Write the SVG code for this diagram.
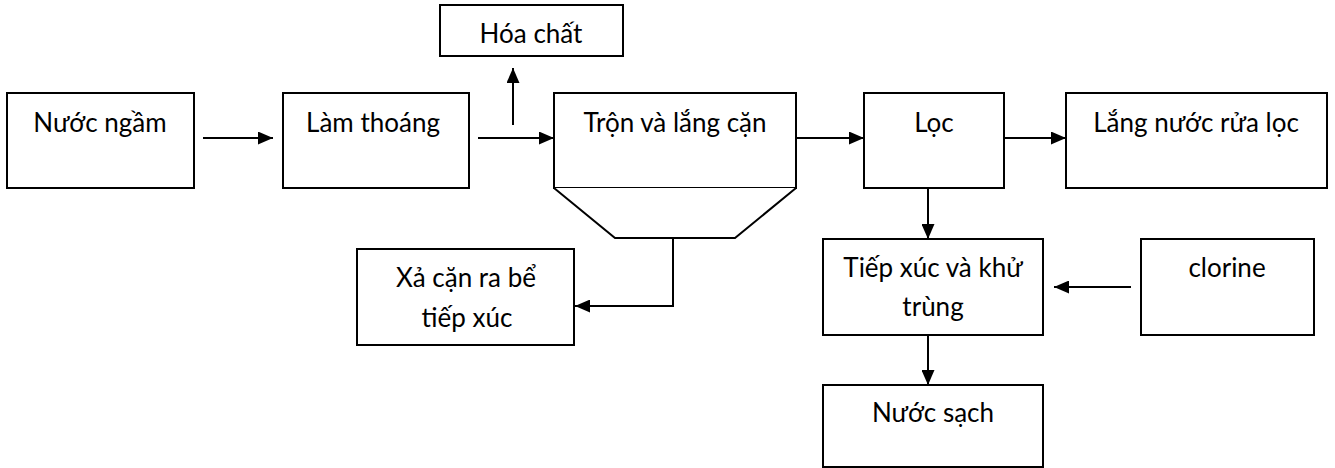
<svg xmlns="http://www.w3.org/2000/svg" width="1335" height="468" viewBox="0 0 1335 468">
<defs>
<marker id="ah" markerWidth="15" markerHeight="13" refX="15" refY="6.5" orient="auto" markerUnits="userSpaceOnUse">
<path d="M0,0 L15,6.5 L0,13 Z" fill="#000"/>
</marker>
<style>
.box{fill:#fff;stroke:#000;stroke-width:2}
.lbl{font-family:Lato,"Open Sans","Liberation Sans",sans-serif;font-size:26px;fill:#000;text-anchor:middle}
.con{fill:none;stroke:#000;stroke-width:2}
</style>
</defs>
<rect width="1335" height="468" fill="#fff"/>
<g id="nuoc-ngam"><rect class="box" x="7" y="93" width="187" height="95"/><text class="lbl" x="100" y="132">Nước ngầm</text></g>
<g id="lam-thoang"><rect class="box" x="283" y="93" width="186" height="95"/><text class="lbl" x="373" y="132">Làm thoáng</text></g>
<g id="hoa-chat"><rect class="box" x="440" y="5" width="183" height="51"/><text class="lbl" x="531" y="43">Hóa chất</text></g>
<g id="tron-lang"><rect class="box" x="554" y="93" width="242" height="95"/><path class="box" d="M554,188 L615,238 L735,238 L796,188"/><text class="lbl" x="675" y="132">Trộn và lắng cặn</text></g>
<g id="loc"><rect class="box" x="864" y="93" width="140" height="95"/><text class="lbl" x="934" y="132">Lọc</text></g>
<g id="lang-nuoc-rua-loc"><rect class="box" x="1066" y="93" width="261" height="95"/><text class="lbl" x="1196" y="132">Lắng nước rửa lọc</text></g>
<g id="xa-can"><rect class="box" x="357" y="249" width="217" height="96"/><text class="lbl" x="466" y="287">Xả cặn ra bể</text><text class="lbl" x="467" y="327">tiếp xúc</text></g>
<g id="tiep-xuc"><rect class="box" x="823" y="239" width="220" height="96"/><text class="lbl" x="933" y="277">Tiếp xúc và khử</text><text class="lbl" x="933" y="316">trùng</text></g>
<g id="clorine"><rect class="box" x="1141" y="239" width="173" height="96"/><text class="lbl" x="1227" y="277">clorine</text></g>
<g id="nuoc-sach"><rect class="box" x="823" y="385" width="220" height="82"/><text class="lbl" x="933" y="422">Nước sạch</text></g>
<g id="connectors">
<line class="con" x1="203" y1="138" x2="273" y2="138" marker-end="url(#ah)"/>
<line class="con" x1="478" y1="138" x2="554" y2="138" marker-end="url(#ah)"/>
<line class="con" x1="513" y1="125" x2="513" y2="68" marker-end="url(#ah)"/>
<line class="con" x1="796" y1="138" x2="864" y2="138" marker-end="url(#ah)"/>
<line class="con" x1="1004" y1="138" x2="1066" y2="138" marker-end="url(#ah)"/>
<polyline class="con" points="673,238 673,306 575,306" marker-end="url(#ah)"/>
<line class="con" x1="928" y1="188" x2="928" y2="239" marker-end="url(#ah)"/>
<line class="con" x1="1131" y1="287" x2="1054" y2="287" marker-end="url(#ah)"/>
<line class="con" x1="928" y1="335" x2="928" y2="385" marker-end="url(#ah)"/>
</g>
</svg>
